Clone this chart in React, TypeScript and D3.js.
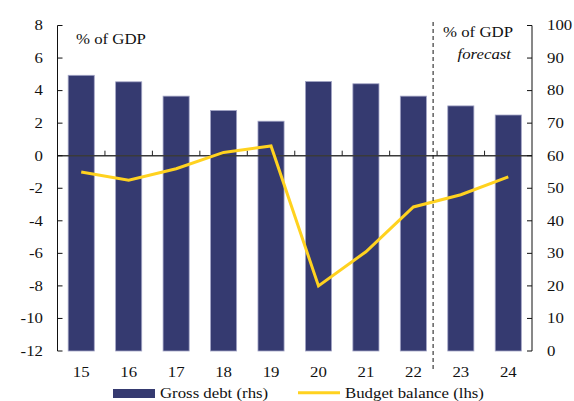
import React from 'react';
import * as d3 from 'd3';

const years = ['15', '16', '17', '18', '19', '20', '21', '22', '23', '24'];
const grossDebt = [84.7, 82.7, 78.3, 73.9, 70.6, 82.8, 82.1, 78.3, 75.3, 72.5];
const budgetBalance = [-1.0, -1.5, -0.8, 0.2, 0.6, -8.0, -5.9, -3.15, -2.4, -1.3];
const lhsTicks = [-12, -10, -8, -6, -4, -2, 0, 2, 4, 6, 8];
const rhsTicks = [0, 10, 20, 30, 40, 50, 60, 70, 80, 90, 100];
const firstForecast = '23';

const W = 574;
const H = 401;
const left = 57.5;
const right = 532;
const top = 25.5;
const bottom = 351;
const FONT = '"Liberation Serif", "Times New Roman", serif';
const BAR = '#353a70';
const LINE = '#ffd21f';

// the reference type is a bit wider than it is tall
const T = ({ x, y, anchor = 'start', italic = false, children }: any) => (
  <text
    transform={`translate(${x},${y}) scale(1.2,1)`}
    textAnchor={anchor}
    fontStyle={italic ? 'italic' : 'normal'}
    fill="#111"
  >
    {children}
  </text>
);

const App = () => {
  const x = d3.scaleBand().domain(years).range([left, right]).paddingInner(0.45).paddingOuter(0.225);
  const yL = d3.scaleLinear().domain([-12, 8]).range([bottom, top]);
  const yR = d3.scaleLinear().domain([0, 100]).range([bottom, top]);
  const step = x.step();
  const bw = x.bandwidth();
  const cx = (d: string) => (x(d) as number) + bw / 2;

  const line = d3
    .line<number>()
    .x((d, i) => cx(years[i]))
    .y((d) => yL(d));

  // boundaries between categories, ticks sit on the zero line
  const bounds = years.slice(1).map((d) => (x(d) as number) - (step - bw) / 2);
  const dashX = (x(firstForecast) as number) - (step - bw) / 2 - 4;

  return (
    <svg
      width={W}
      height={H}
      style={{ position: 'absolute', left: 0, top: 0, background: '#fff' }}
      fontFamily={FONT}
      fontSize={14}
    >
      {years.map((d, i) => (
        <rect
          key={d}
          x={x(d)}
          y={yR(grossDebt[i])}
          width={bw}
          height={bottom - yR(grossDebt[i])}
          fill={BAR}
          stroke="#a3a5c6"
          strokeWidth={0.8}
        />
      ))}

      {/* zero line on lhs */}
      <line x1={left} x2={right} y1={yL(0)} y2={yL(0)} stroke="#3a3a3a" strokeWidth={1.6} />
      {bounds.map((b, i) => (
        <line key={i} x1={b} x2={b} y1={yL(0)} y2={yL(0) - 5} stroke="#222" strokeWidth={1} />
      ))}

      {/* left axis */}
      <line x1={left} x2={left} y1={top} y2={bottom} stroke="#111" strokeWidth={1} />
      {lhsTicks.map((t) => (
        <g key={t}>
          <line x1={left} x2={left + 5} y1={yL(t)} y2={yL(t)} stroke="#111" />
          <T x={43} y={yL(t) + 4.8} anchor="end">
            {t}
          </T>
        </g>
      ))}

      {/* right axis */}
      <line x1={right} x2={right} y1={top} y2={bottom} stroke="#111" strokeWidth={1} />
      {rhsTicks.map((t) => (
        <g key={t}>
          <line x1={right - 5} x2={right} y1={yR(t)} y2={yR(t)} stroke="#111" />
          <T x={547} y={yR(t) + 4.8}>
            {t}
          </T>
        </g>
      ))}

      {/* budget balance line */}
      <path d={line(budgetBalance) || ''} fill="none" stroke={LINE} strokeWidth={3} strokeLinejoin="miter" />

      {/* forecast divider */}
      <line x1={dashX} x2={dashX} y1={22} y2={370} stroke="#111" strokeWidth={1} strokeDasharray="4,3" />

      {/* category labels */}
      {years.map((d) => (
        <T key={d} x={cx(d)} y={377} anchor="middle">
          {d}
        </T>
      ))}

      <T x={76} y={44}>% of GDP</T>
      <T x={513} y={36.5} anchor="end">% of GDP</T>
      <T x={511} y={59} anchor="end" italic>forecast</T>

      {/* legend */}
      <rect x={113} y={389} width={42} height={9} fill={BAR} />
      <T x={160} y={397.5}>Gross debt (rhs)</T>
      <line x1={298} x2={340} y1={392.7} y2={392.7} stroke={LINE} strokeWidth={3} />
      <T x={345} y={397.5}>Budget balance (lhs)</T>
    </svg>
  );
};

export default App;
